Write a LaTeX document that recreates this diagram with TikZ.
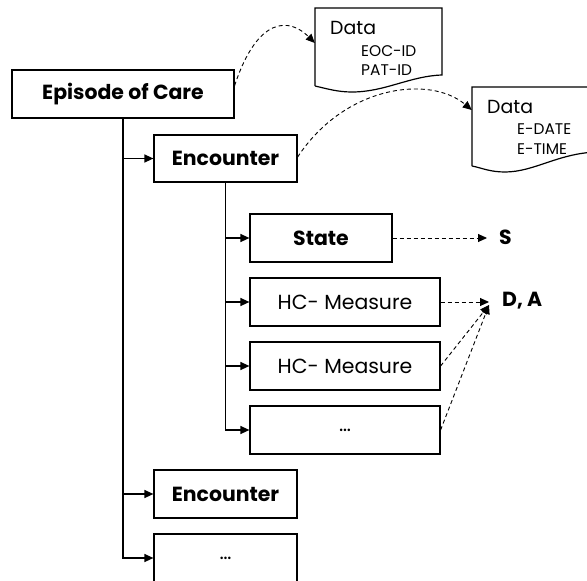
\documentclass[tikz,border=0pt]{standalone}
\usepackage{fontspec}
\setmainfont{Poppins}
\usetikzlibrary{arrows.meta,calc}
\begin{document}
\begin{tikzpicture}[x=1bp,y=-1bp,
  box/.style={draw, line width=1.2bp, inner sep=0pt, font=\fontsize{20.5}{24}\selectfont\bfseries},
  boxr/.style={draw, line width=1.2bp, inner sep=0pt, font=\fontsize{20.5}{24}\selectfont},
  trunk/.style={line width=1.3bp, -{Triangle[length=9bp,width=8bp]}},
  darr/.style={line width=0.9bp, dash pattern=on 4bp off 3bp, -{Triangle[length=9bp,width=8bp]}},
  doc/.style={line width=1.2bp},
  lbl/.style={font=\fontsize{20.5}{24}\selectfont\bfseries, inner ysep=0pt},
  dbig/.style={font=\fontsize{19}{22}\selectfont, inner sep=0pt, anchor=base west},
  dsmall/.style={font=\fontsize{15.5}{18}\selectfont, inner sep=0pt, anchor=base west}]
\useasboundingbox (0,0) rectangle (587,581);
% boxes
\node[box, minimum width=222bp, minimum height=48bp] (eoc) at (123,94) {Episode of Care};
\node[box, minimum width=143bp, minimum height=47bp] (enc1) at (225.5,158.5) {Encounter};
\node[box, minimum width=142bp, minimum height=48bp] (state) at (321,238) {State};
\node[boxr, minimum width=190bp, minimum height=48bp] (hc1) at (345,302) {HC- Measure};
\node[boxr, minimum width=190bp, minimum height=48bp] (hc2) at (345,366) {HC- Measure};
\node[boxr, minimum width=190bp, minimum height=48bp] (dots1) at (345,430) {\dots};
\node[box, minimum width=143bp, minimum height=48bp] (enc2) at (225.5,494) {Encounter};
\node[boxr, minimum width=143bp, minimum height=48bp] (dots2) at (225.5,558) {\dots};
% trunks
\draw[trunk] (eoc.south) |- (enc1.west);
\draw[trunk] (eoc.south) |- (enc2.west);
\draw[trunk] (eoc.south) |- (dots2.west);
\draw[trunk] (enc1.south) |- (state.west);
\draw[trunk] (enc1.south) |- (hc1.west);
\draw[trunk] (enc1.south) |- (hc2.west);
\draw[trunk] (enc1.south) |- (dots1.west);
% documents
\draw[doc] (315,86) -- (315,8) -- (442,8) -- (442,75) .. controls (410,76) and (385,92) .. (352,92) .. controls (338,92) and (328,89) .. (315,86);
\node[inner sep=0pt, minimum width=127bp, minimum height=70bp] (doc1) at (378.5,43) {};
\node[dbig] (d1t) at (330,35) {Data};
\node[dsmall] (d1a) at (361,57) {EOC-ID};
\node[dsmall] (d1b) at (361,76) {PAT-ID};
\draw[doc] (472,166) -- (472,87) -- (600,87) -- (600,152) .. controls (560,152) and (535,172) .. (505,172) .. controls (490,172) and (482,168) .. (472,166);
\node[inner sep=0pt, minimum width=128bp, minimum height=46bp] (doc2) at (536,110) {};
\node[dbig] (d2t) at (487,114) {Data};
\node[dsmall] (d2a) at (517,135) {E-DATE};
\node[dsmall] (d2b) at (517,155) {E-TIME};
% labels
\node[lbl, anchor=west, inner xsep=12bp] (s) at (487,237) {S};
\node[lbl, anchor=west, inner xsep=13bp] (da) at (489,301) {D, A};
% dashed connectors
\draw[darr] ($(eoc.north east)!0.33!(eoc.south east)$) .. controls (258,15) and (290,18) .. (doc1.west);
\draw[darr] ($(enc1.north east)!0.47!(enc1.south east)$) .. controls (345,85) and (430,75) .. (doc2.west);
\draw[darr] (state.east) -- (state.east -| s.west);
\draw[darr] (hc1.east) -- (hc1.east -| da.west);
\draw[darr] (hc2.east) -- ($(da.west)+(0,4)$);
\draw[darr] (dots1.east) -- ($(da.west)+(0,4)$);
\end{tikzpicture}
\end{document}
